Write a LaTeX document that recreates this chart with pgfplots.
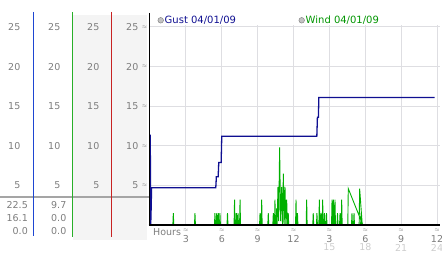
\documentclass[border=0pt]{standalone}
\usepackage{pgfplots}
\pgfplotsset{compat=1.18}
\usepackage{fontspec}
\setmainfont{DejaVu Sans}
\definecolor{gustc}{RGB}{15,15,145}
\definecolor{windc}{RGB}{0,175,0}
\definecolor{gridc}{RGB}{222,222,226}
\definecolor{labc}{RGB}{125,125,125}
\definecolor{lab2c}{RGB}{205,205,205}
\definecolor{bgc}{RGB}{244,244,244}
\definecolor{bluel}{RGB}{30,70,210}
\definecolor{greenl}{RGB}{40,175,40}
\definecolor{redl}{RGB}{200,35,35}
\definecolor{hl}{RGB}{165,165,165}
\definecolor{legc}{RGB}{170,170,170}
\newcommand{\sq}{{\fontsize{5}{5}\selectfont$\approx$}}
\begin{document}
\begin{tikzpicture}[font=\fontsize{9.5}{11}\selectfont]
\useasboundingbox (0,0) rectangle (442pt,253pt);
\begin{scope}[x=1pt,y=-1pt,yshift=253pt]
  % grey panels
  \fill[bgc] (73,15) rectangle (111,240);
  \fill[bgc] (111,15) rectangle (147,240);
  % horizontal separator
  \draw[hl, line width=2pt] (0,197) -- (150,197);
  % coloured column lines
  \draw[bluel, line width=1.3pt] (33.5,12) -- (33.5,236);
  \draw[greenl, line width=1.2pt] (72.5,12) -- (72.5,237);
  \draw[redl, line width=1.2pt] (111.5,12) -- (111.5,237);
  % y scale labels
  \foreach \v/\y in {25/27,20/66.6,15/106.2,10/145.8,5/185.4}{
    \node[labc, anchor=east, inner sep=0pt] at (20.5,\y) {\v};
    \node[labc, anchor=east, inner sep=0pt] at (60.5,\y) {\v};
    \node[labc, anchor=east, inner sep=0pt] at (99.5,\y) {\v};
    \node[labc, anchor=east, inner sep=0pt] at (138.5,\y) {\v};
    \node[labc, inner sep=0pt] at (144.5,\y) {\sq};
  }
  % summary values
  \foreach \t/\y in {22.5/205,16.1/218,0.0/231}{
    \node[labc, anchor=east, inner sep=0pt] at (28,\y) {\t};}
  \foreach \t/\y in {9.7/205,0.0/218,0.0/231}{
    \node[labc, anchor=east, inner sep=0pt] at (66.5,\y) {\t};}
  % x labels
  \node[labc, anchor=west, inner sep=0pt] at (153,232) {Hours};
  \foreach \t/\x in {3/185.9,6/221.8,9/257.6,12/293.5,3/329.4,6/365.3,9/401.2,12/437}{
    \node[labc, inner sep=0pt] at (\x,239) {\t};
    \node[labc, inner sep=0pt] at (\x,230.5) {\sq};
  }
  \foreach \t/\x in {15/329.4,18/365.3,21/401.2,24/437}{
    \node[lab2c, inner sep=0pt] at (\x,247.5) {\t};}
\end{scope}
\begin{axis}[
  at={(150pt,28pt)}, anchor=south west, scale only axis,
  width=290pt, height=200pt,
  xmin=0, xmax=24.25, ymin=0, ymax=25.25,
  axis line style={draw=none},
  xtick={3,6,...,24}, ytick={5,10,...,25},
  xticklabels={}, yticklabels={},
  major tick length=0pt,
  grid=major, grid style={gridc, line width=1pt},
  clip=false,
]
\addplot[windc, line width=0.9pt, line join=miter] coordinates {
(0,0)
(1.91,0)(1.95,1.5)(1.99,0)
(3.72,0)(3.76,1.5)(3.80,0)
(5.39,0)(5.43,1.5)(5.47,0)
(5.54,0)(5.58,1.5)(5.62,0)
(5.67,0)(5.71,1.5)(5.75,0)
(5.81,0)(5.85,1.5)(5.89,0)
(6.44,0)(6.48,1.5)(6.52,0)
(7.03,0)(7.07,3.2)(7.11,0)
(7.19,0)(7.23,1.5)(7.27,0)
(7.32,0)(7.36,1.5)(7.40,0)
(7.49,0)(7.53,3.2)(7.57,0)
(9.16,0)(9.20,1.5)(9.24,0)
(9.30,0)(9.34,3.2)(9.38,0)
(9.85,0)(9.89,1.5)(9.93,0)
(10.27,0)(10.31,1.5)(10.35,0)
(10.41,0)(10.45,3.2)(10.49,0)
(10.55,0)(10.59,2.1)(10.63,0)
(10.70,4.8)(10.76,0.5)(10.84,9.8)(10.92,0.5)(11.01,4.8)(11.08,0)
(11.15,6.5)(11.22,0)(11.29,4.8)(11.36,0)(11.43,3.2)(11.49,0)
(11.52,0)(11.56,1.5)(11.60,0)
(12.17,0)(12.21,3.2)(12.25,0)
(12.29,0)(12.33,1.5)(12.37,0)
(13.06,0)(13.10,3.2)(13.14,0)
(13.61,0)(13.65,1.5)(13.69,0)
(13.92,0)(13.96,1.5)(14.00,0)
(14.12,0)(14.16,3.2)(14.20,0)
(14.26,0)(14.30,1.5)(14.34,0)
(14.40,0)(14.44,3.2)(14.48,0)
(14.55,0)(14.59,1.5)(14.63,0)
(14.72,0)(14.76,1.5)(14.80,0)
(15.18,0)(15.22,3.2)(15.26,0)(15.30,0)(15.34,3.2)(15.38,0)(15.43,0)(15.47,3.2)(15.51,0)
(15.64,0)(15.68,1.5)(15.72,0)
(15.85,0)(15.89,1.5)(15.93,0)
(15.99,0)(16.03,3.2)(16.07,0)
(16.54,0)(16.58,4.6)(17.80,0)
(16.85,0)(16.89,1.5)(16.93,0)
(17.02,0)(17.06,1.5)(17.10,0)
(17.49,0)(17.53,4.6)(17.75,0)
(17.61,0)(17.65,1.5)(17.69,0)
(17.80,0)(24,0)
};
\addplot[gustc, line width=1.3pt] coordinates {
(0,0)(0.02,11.4)(0.06,0)(0.1,2.3)(0.13,4.7)(5.5,4.7)(5.55,6.1)(5.7,6.1)(5.75,7.9)(5.95,7.9)(6.0,11.2)(13.95,11.2)(14.0,13.6)(14.08,13.6)(14.12,16.1)(23.8,16.1)
};
\end{axis}
\begin{scope}[x=1pt,y=-1pt,yshift=253pt]
  \draw[black, line width=1.4pt] (149.2,13) -- (149.2,225.5);
  \draw[black, line width=1.6pt] (148.5,225) -- (440,225);
  % legend
  \filldraw[fill=legc!70, draw=legc!80!black, line width=0.5pt] (160.7,20.3) circle (2.8);
  \node[gustc, anchor=base west, inner sep=0pt, font=\fontsize{10}{12}\selectfont] at (164.5,24) {Gust 04/01/09};
  \filldraw[fill=legc!70, draw=legc!80!black, line width=0.5pt] (301.7,20.3) circle (2.8);
  \node[windc!85!black, anchor=base west, inner sep=0pt, font=\fontsize{10}{12}\selectfont] at (305.5,24) {Wind 04/01/09};
\end{scope}
\end{tikzpicture}
\end{document}
